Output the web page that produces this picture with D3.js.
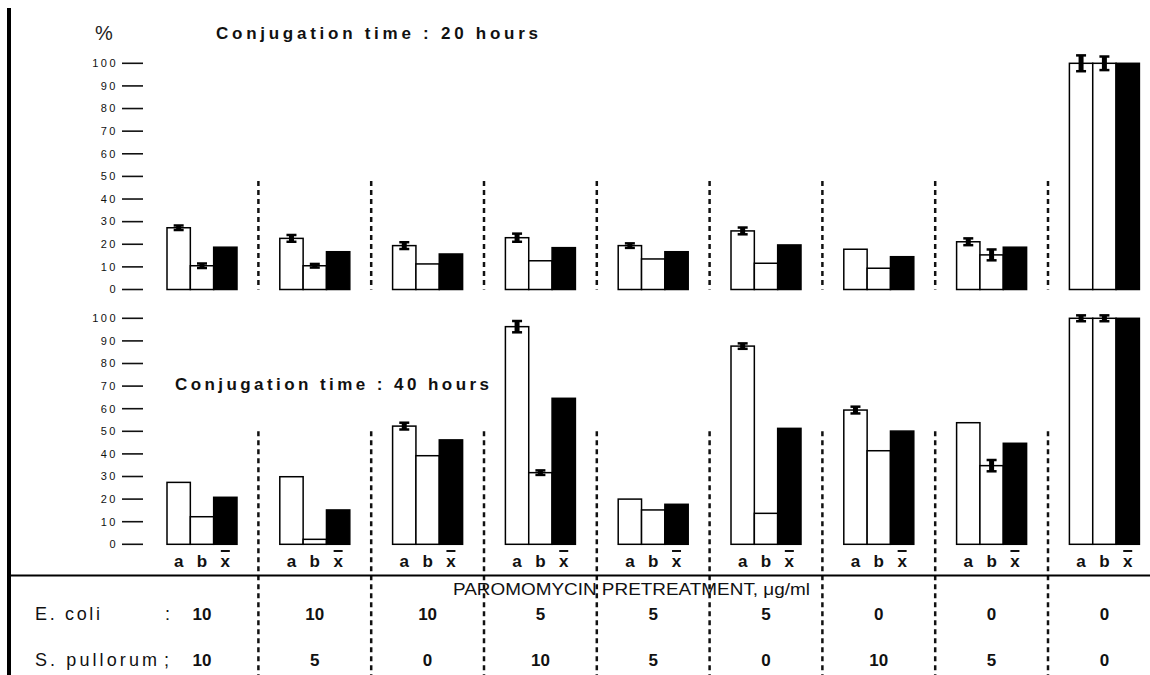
<!DOCTYPE html>
<html>
<head>
<meta charset="utf-8">
<script src="https://cdn.jsdelivr.net/npm/d3@7"></script>
<style>
  body { margin:0; background:#fff; }
  svg { display:block; font-family:'Liberation Sans', Arial, sans-serif; }
  .tick-label { font-size:11px; letter-spacing:2.5px; fill:#111; }
  .title { font-size:17px; font-weight:bold; fill:#111; }
  .row-label { font-size:18px; fill:#111; }
  .cell { font-size:17px; font-weight:bold; fill:#111; }
  .barletter { font-size:17px; font-weight:bold; fill:#111; }
</style>
</head>
<body>
<div id="chart"></div>
<script>
var ecoli = ['10', '10', '10', '5', '5', '5', '0', '0', '0']
var spullorum = ['10', '5', '0', '10', '5', '0', '10', '5', '0']
var barKeys = ['a', 'b', 'x']
var yTicks = [0, 10, 20, 30, 40, 50, 60, 70, 80, 90, 100]

// conjugation time 20 hours
var top_a = [27.3, 22.6, 19.4, 22.9, 19.4, 25.9, 17.8, 21.1, 100]
var top_b = [10.5, 10.5, 11.3, 12.7, 13.5, 11.6, 9.4, 15.3, 100]
var top_x = [18.7, 16.7, 15.7, 18.5, 16.7, 19.7, 14.5, 18.7, 100]
var top_errA = [1, 1.5, 1.5, 1.8, 1, 1.5, 0, 1.5, 3.5]
var top_errB = [1, 0.8, 0, 0, 0, 0, 0, 2.4, 3]

// conjugation time 40 hours
var bot_a = [27.4, 29.9, 52.3, 96.3, 20.0, 87.7, 59.4, 53.8, 100]
var bot_b = [12.2, 2.2, 39.2, 31.7, 15.2, 13.7, 41.4, 34.8, 100]
var bot_x = [20.8, 15.2, 46.2, 64.6, 17.7, 51.3, 50.1, 44.7, 100]
var bot_errA = [0, 0, 1.5, 2.5, 0, 1.2, 1.5, 0, 1.3]
var bot_errB = [0, 0, 0, 1, 0, 0, 0, 2.5, 1.3]

var width = 1150, height = 675;
var svg, xGroup, xBar, yTop, yBot;

function GenerateGlobals() {
  svg = d3.select('#chart').append('svg')
    .attr('width', width).attr('height', height);

  xGroup = d3.scalePoint().domain(d3.range(9)).range([202, 1104.4]);
  xBar = d3.scaleBand().domain(barKeys).range([-35, 35]);

  yTop = d3.scaleLinear().domain([0, 100]).range([289.5, 63.3]);
  yBot = d3.scaleLinear().domain([0, 100]).range([544.3, 318.3]);
}

function makeRows(a, b, x, ea, eb) {
  return d3.range(9).map(function(i) {
    return [
      {g: i, key: 'a', v: a[i], e: ea[i]},
      {g: i, key: 'b', v: b[i], e: eb[i]},
      {g: i, key: 'x', v: x[i], e: 0}
    ];
  });
}

function DrawAxis(y) {
  var ax = svg.append('g');
  ax.selectAll('line.tk').data(yTicks).enter().append('line')
    .attr('x1', 122).attr('x2', 143)
    .attr('y1', d => y(d)).attr('y2', d => y(d))
    .attr('stroke', '#111').attr('stroke-width', 1.6);
  ax.selectAll('text').data(yTicks).enter().append('text')
    .attr('class', 'tick-label')
    .attr('x', 118).attr('y', d => y(d))
    .attr('dy', '0.35em')
    .attr('text-anchor', 'end')
    .text(d => d);
}

function DrawPanel(rows, y) {
  var groups = svg.append('g').selectAll('g').data(rows).enter().append('g')
    .attr('transform', function(d, i) { return 'translate(' + xGroup(i) + ',0)'; });

  groups.selectAll('rect').data(d => d).enter().append('rect')
    .attr('x', d => xBar(d.key))
    .attr('width', xBar.bandwidth())
    .attr('y', d => y(d.v))
    .attr('height', d => y(0) - y(d.v))
    .attr('fill', d => d.key == 'x' ? '#000' : '#fff')
    .attr('stroke', '#000')
    .attr('stroke-width', 1.5);

  // error bars (I-beam)
  var errs = groups.selectAll('g.err').data(d => d.filter(e => e.e > 0)).enter().append('g')
    .attr('class', 'err');
  errs.append('line')
    .attr('x1', d => xBar(d.key) + xBar.bandwidth() / 2)
    .attr('x2', d => xBar(d.key) + xBar.bandwidth() / 2)
    .attr('y1', d => y(d.v + d.e)).attr('y2', d => y(d.v - d.e))
    .attr('stroke', '#000').attr('stroke-width', 5);
  errs.selectAll('line.cap').data(d => [[d, d.v + d.e], [d, d.v - d.e]]).enter().append('line')
    .attr('class', 'cap')
    .attr('x1', d => xBar(d[0].key) + xBar.bandwidth() / 2 - 5)
    .attr('x2', d => xBar(d[0].key) + xBar.bandwidth() / 2 + 5)
    .attr('y1', d => y(d[1])).attr('y2', d => y(d[1]))
    .attr('stroke', '#000').attr('stroke-width', 2.5);
}

function DrawSeparators() {
  var seps = d3.range(8);
  var mid = i => (xGroup(i) + xGroup(i + 1)) / 2;
  svg.append('g').selectAll('line').data(seps).enter().append('line')
    .attr('x1', mid).attr('x2', mid)
    .attr('y1', yTop(48)).attr('y2', yTop(0))
    .attr('stroke', '#111').attr('stroke-width', 2.5)
    .attr('stroke-dasharray', '5,4');
  svg.append('g').selectAll('line').data(seps).enter().append('line')
    .attr('x1', mid).attr('x2', mid)
    .attr('y1', yBot(50)).attr('y2', height)
    .attr('stroke', '#111').attr('stroke-width', 2.5)
    .attr('stroke-dasharray', '5,4');
}

function DrawStatics() {
  // frame lines
  svg.append('line')
    .attr('x1', 9).attr('x2', 9).attr('y1', 8).attr('y2', height)
    .attr('stroke', '#000').attr('stroke-width', 4);
  svg.append('line')
    .attr('x1', 9).attr('x2', width).attr('y1', 575.5).attr('y2', 575.5)
    .attr('stroke', '#000').attr('stroke-width', 2);

  svg.append('text')
    .attr('x', 104).attr('y', 40)
    .attr('text-anchor', 'middle')
    .style('font-size', '20px').style('fill', '#222')
    .text('%');

  svg.append('text').attr('class', 'title')
    .attr('x', 216).attr('y', 39)
    .attr('textLength', 322).attr('lengthAdjust', 'spacing')
    .text('Conjugation  time : 20  hours');
  svg.append('text').attr('class', 'title')
    .attr('x', 175).attr('y', 390)
    .attr('textLength', 314).attr('lengthAdjust', 'spacing')
    .text('Conjugation  time : 40  hours');

  // bar letters under lower panel
  var letters = svg.append('g').selectAll('g').data(d3.range(9)).enter().append('g')
    .attr('transform', i => 'translate(' + xGroup(i) + ',0)');
  letters.selectAll('text').data(barKeys).enter().append('text')
    .attr('class', 'barletter')
    .attr('x', d => xBar(d) + xBar.bandwidth() / 2)
    .attr('y', 567)
    .attr('text-anchor', 'middle')
    .text(d => d);
  letters.append('line')
    .attr('x1', xBar('x') + xBar.bandwidth() / 2 - 4.5)
    .attr('x2', xBar('x') + xBar.bandwidth() / 2 + 4.5)
    .attr('y1', 551).attr('y2', 551)
    .attr('stroke', '#111').attr('stroke-width', 2);

  svg.append('text')
    .attr('x', 453).attr('y', 595)
    .attr('textLength', 357).attr('lengthAdjust', 'spacingAndGlyphs')
    .style('font-size', '17px').style('fill', '#111')
    .text('PAROMOMYCIN PRETREATMENT, μg/ml');

  // table rows
  svg.append('text').attr('class', 'row-label').attr('x', 35).attr('y', 620)
    .attr('textLength', 65).attr('lengthAdjust', 'spacing').text('E. coli');
  svg.append('text').attr('class', 'row-label').attr('x', 165).attr('y', 620).text(':');
  svg.append('text').attr('class', 'row-label').attr('x', 35).attr('y', 666)
    .attr('textLength', 122).attr('lengthAdjust', 'spacing').text('S. pullorum');
  svg.append('text').attr('class', 'row-label').attr('x', 164).attr('y', 666).text(';');

  svg.append('g').selectAll('text').data(ecoli).enter().append('text')
    .attr('class', 'cell')
    .attr('x', (d, i) => xGroup(i)).attr('y', 620)
    .attr('text-anchor', 'middle')
    .text(d => d);
  svg.append('g').selectAll('text').data(spullorum).enter().append('text')
    .attr('class', 'cell')
    .attr('x', (d, i) => xGroup(i)).attr('y', 666)
    .attr('text-anchor', 'middle')
    .text(d => d);
}

function DrawChart() {
  GenerateGlobals();
  DrawAxis(yTop);
  DrawAxis(yBot);
  DrawSeparators();
  DrawPanel(makeRows(top_a, top_b, top_x, top_errA, top_errB), yTop);
  DrawPanel(makeRows(bot_a, bot_b, bot_x, bot_errA, bot_errB), yBot);
  DrawStatics();
}

DrawChart();
</script>
</body>
</html>
